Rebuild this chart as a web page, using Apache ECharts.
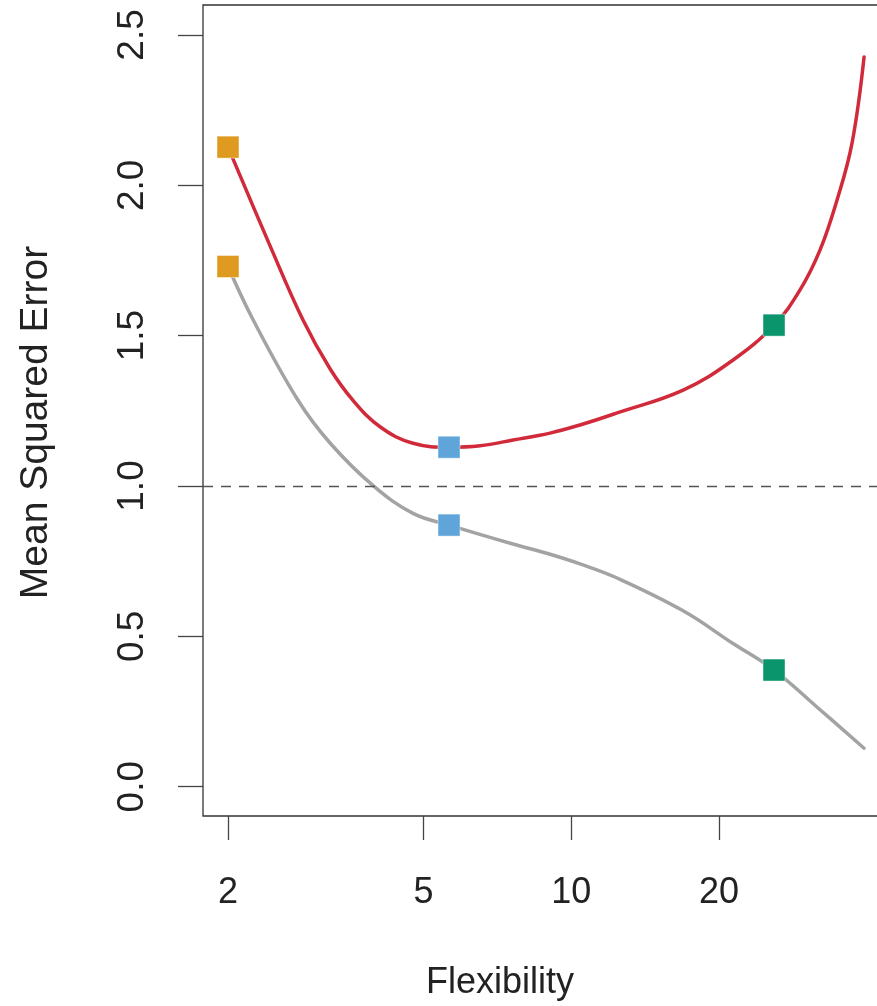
<!DOCTYPE html>
<html>
<head>
<meta charset="utf-8">
<script src="https://cdn.jsdelivr.net/npm/echarts@6/dist/echarts.min.js"></script>
<style>
html,body{margin:0;padding:0;background:#fff;overflow:hidden;}
#chart{width:900px;height:1006px;}
</style>
</head>
<body>
<div id="chart"></div>
<script>
// Test MSE (red) curve
const testX = [2.0, 2.424, 2.843, 3.227, 3.594, 4.079, 4.762, 5.638, 6.522, 7.613, 9.053, 10.42, 12.40, 16.90, 21.36, 25.88, 29.24, 32.12, 34.78, 37.32, 39.48];
const testY = [2.127, 1.807, 1.552, 1.390, 1.285, 1.197, 1.142, 1.129, 1.134, 1.153, 1.176, 1.203, 1.243, 1.319, 1.419, 1.535, 1.652, 1.785, 1.951, 2.141, 2.427];
// Training MSE (grey) curve
const trainX = [2.0, 2.251, 2.775, 3.227, 3.95, 4.762, 5.638, 7.613, 9.053, 10.42, 12.40, 16.90, 21.36, 25.88, 31.6, 39.48];
const trainY = [1.73, 1.552, 1.286, 1.143, 1.001, 0.909, 0.870, 0.807, 0.773, 0.741, 0.694, 0.585, 0.476, 0.388, 0.266, 0.128];
// Highlighted models
const markX = [2, 5.638, 25.88];
const markTest = [2.127, 1.129, 1.535];
const markTrain = [1.73, 0.870, 0.388];
const markColors = ['#df9b1f', '#5fa5d9', '#0b956c'];
// Axis ticks
const xTicks = [2, 5, 10, 20];
const yTicks = [0, 0.5, 1.0, 1.5, 2.0, 2.5];
const irreducible = 1.0;

const FONT = '"Liberation Sans", Arial, Helvetica, sans-serif';
const chart = echarts.init(document.getElementById('chart'), null, {renderer: 'canvas'});

const pairs = (xs, ys) => xs.map((x, i) => [x, ys[i]]);
const markers = [];
markX.forEach((x, i) => {
  markers.push({value: [x, markTest[i]], itemStyle: {color: markColors[i]}});
  markers.push({value: [x, markTrain[i]], itemStyle: {color: markColors[i]}});
});

chart.setOption({
  animation: false,
  backgroundColor: '#fff',
  grid: {left: 203, right: 3, top: 5, bottom: 190, show: true, borderColor: '#333', borderWidth: 1.3, backgroundColor: 'transparent'},
  xAxis: {
    type: 'log', logBase: 10, min: 1.7787, max: 46.07,
    name: 'Flexibility', nameLocation: 'middle', nameGap: 149,
    nameTextStyle: {fontFamily: FONT, fontSize: 36, color: '#222', padding: [0, 100, 0, 0]},
    axisLine: {show: false, onZero: false},
    splitLine: {show: false},
    minorTick: {show: false},
    axisTick: {show: true, inside: false, length: 24, customValues: xTicks, lineStyle: {color: '#444', width: 1.3}},
    axisLabel: {show: true, margin: 59, customValues: xTicks, fontFamily: FONT, fontSize: 36, color: '#222',
      formatter: v => String(Math.round(v))}
  },
  yAxis: {
    type: 'value', min: -0.0974, max: 2.5996,
    name: 'Mean Squared Error', nameLocation: 'middle', nameGap: 147, nameRotate: 90,
    nameTextStyle: {fontFamily: FONT, fontSize: 39, color: '#222', padding: [0, 24, 0, 0]},
    axisLine: {show: false, onZero: false},
    splitLine: {show: false},
    axisTick: {show: true, inside: false, length: 25, customValues: yTicks, lineStyle: {color: '#444', width: 1.3}},
    axisLabel: {show: true, rotate: 90, margin: 52, customValues: yTicks, fontFamily: FONT, fontSize: 37, color: '#222',
      formatter: v => v.toFixed(1)}
  },
  series: [
    {
      type: 'line', data: pairs(trainX, trainY), smooth: 0.4, showSymbol: false, symbol: 'none',
      lineStyle: {color: '#a2a4a3', width: 3.5, cap: 'round'}, z: 2,
      markLine: {
        silent: true, symbol: 'none', label: {show: false},
        lineStyle: {color: '#555', width: 1.3, type: [10, 8]},
        data: [{yAxis: irreducible}]
      }
    },
    {
      type: 'line', data: pairs(testX, testY), smooth: 0.4, showSymbol: false, symbol: 'none',
      lineStyle: {color: '#d12b3b', width: 3.5, cap: 'round'}, z: 3
    },
    {
      type: 'scatter', data: markers, symbol: 'rect', symbolSize: 22,
      itemStyle: {borderColor: 'rgba(255,255,255,0.45)', borderWidth: 1, opacity: 1}, z: 5
    }
  ]
});
</script>
</body>
</html>
